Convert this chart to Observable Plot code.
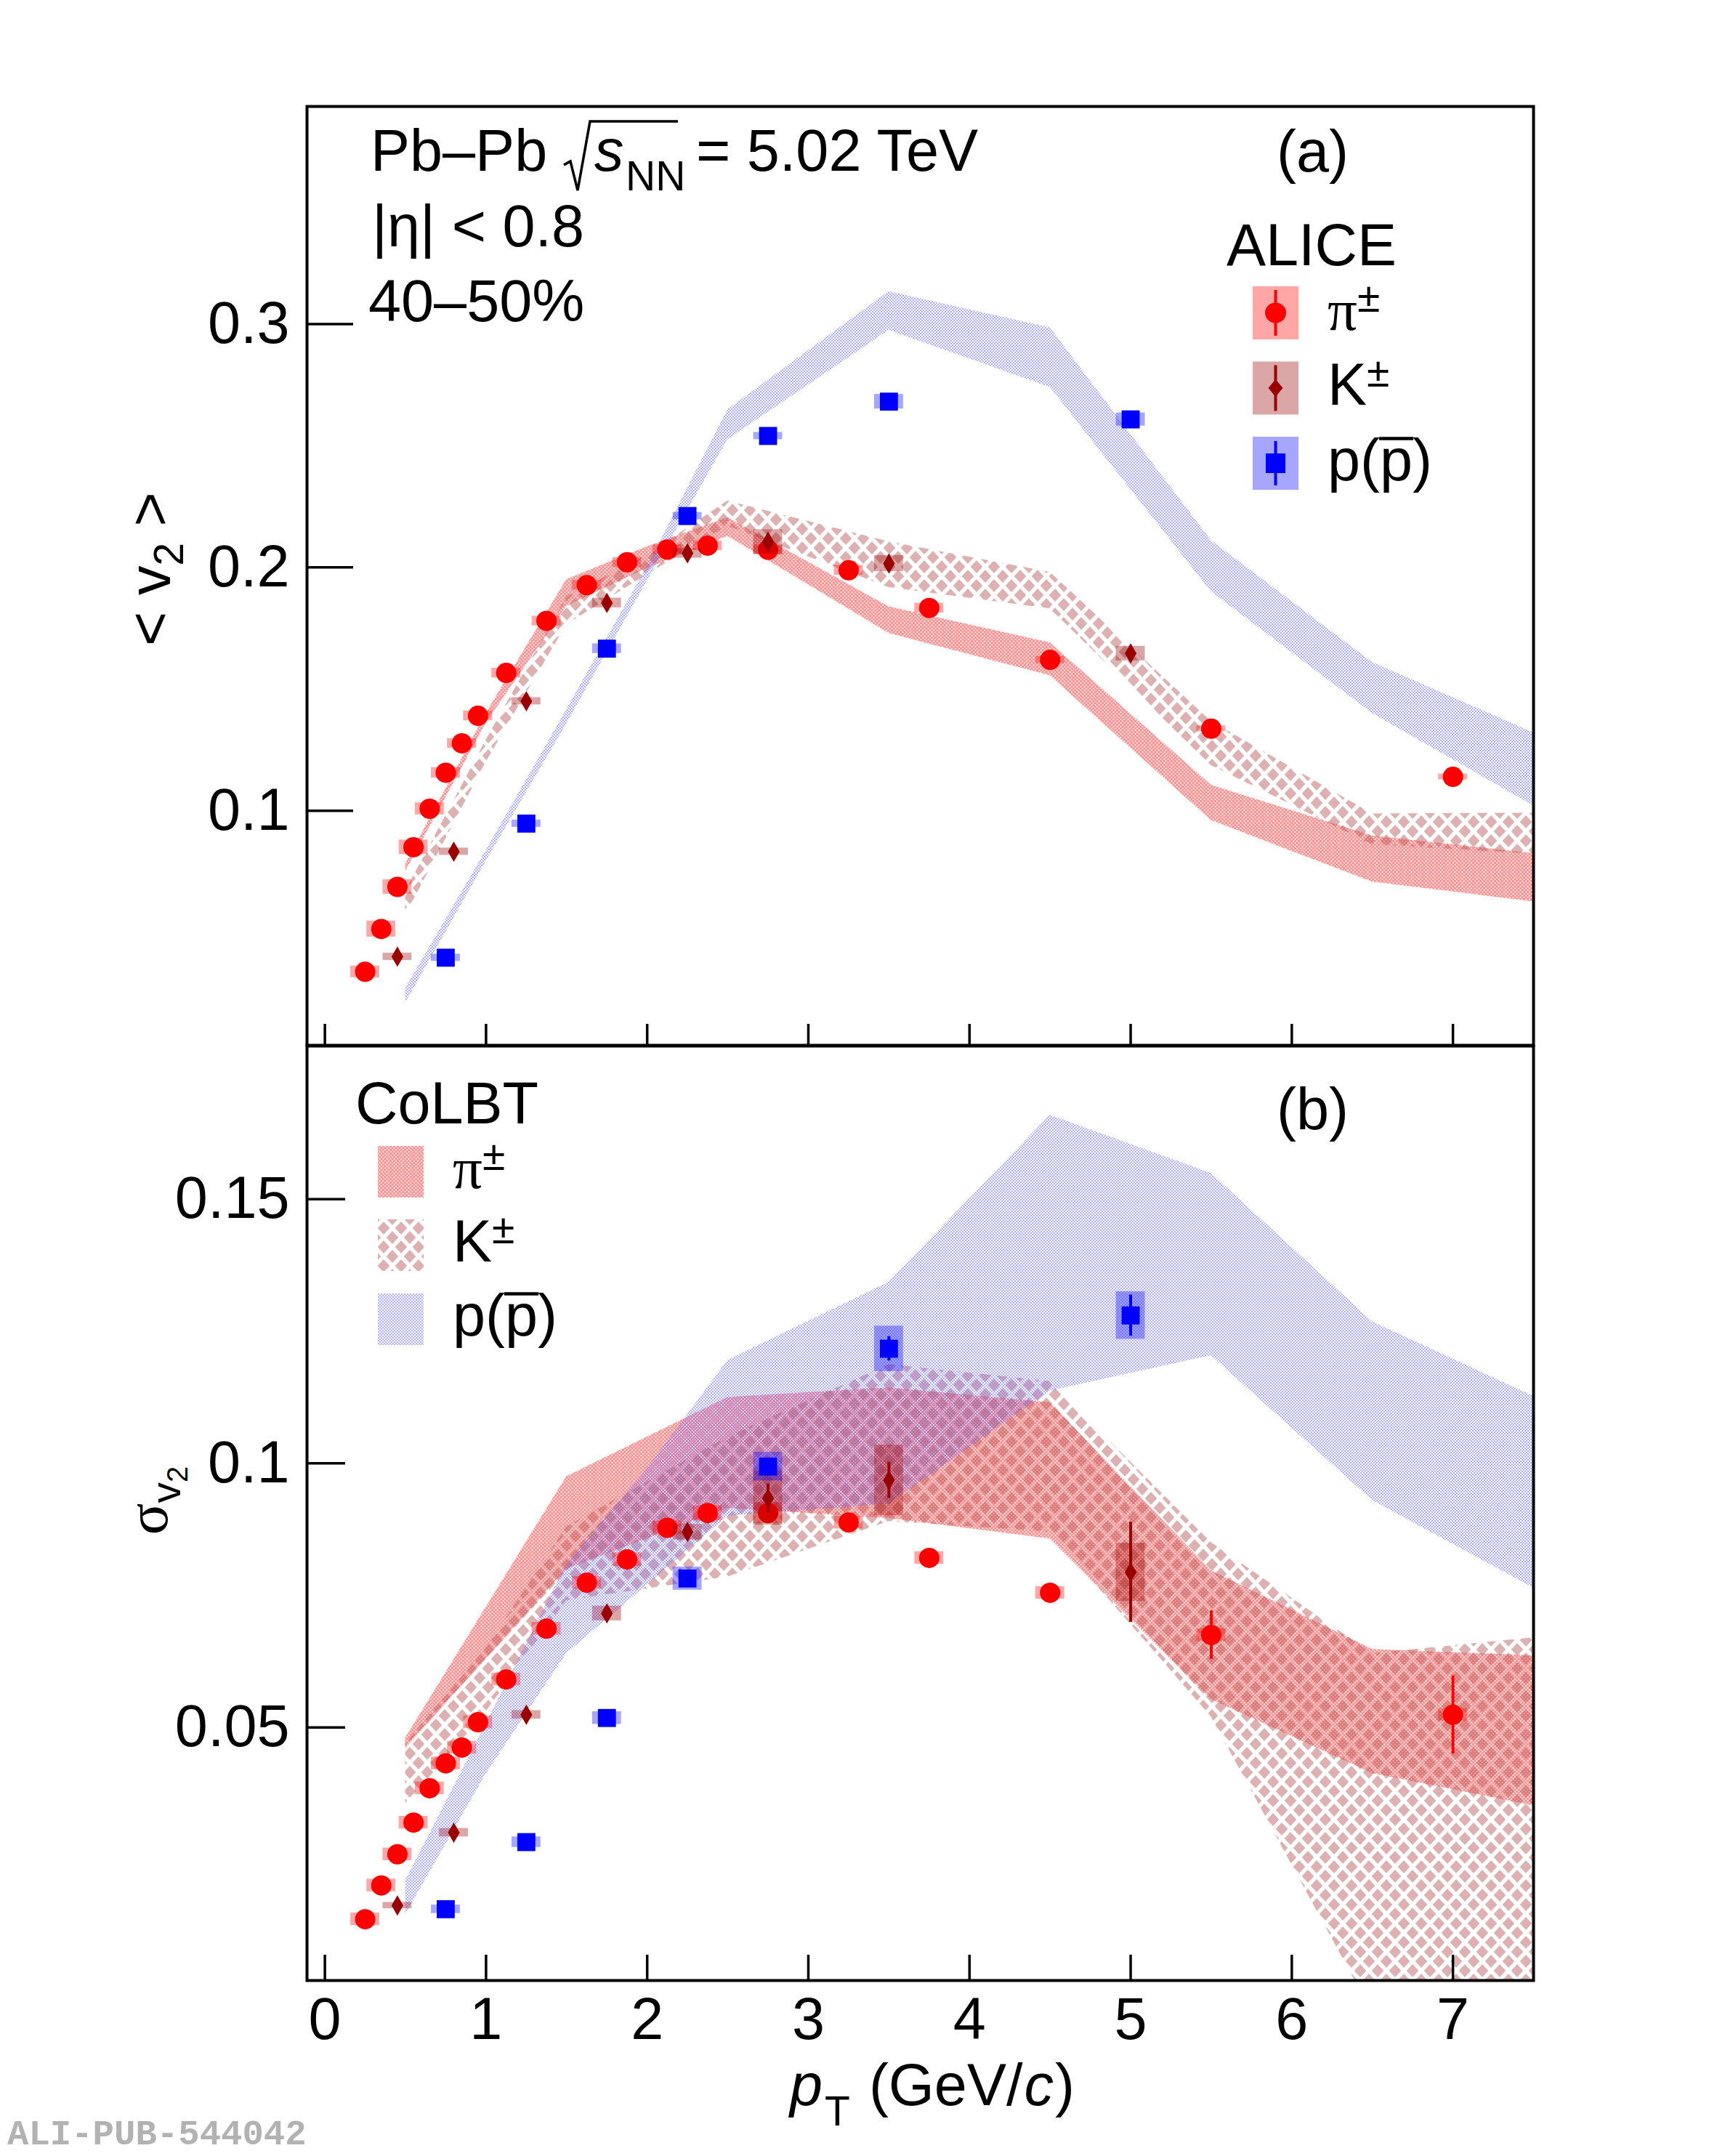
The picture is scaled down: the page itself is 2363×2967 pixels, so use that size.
<!DOCTYPE html>
<html><head><meta charset="utf-8">
<script src="https://cdn.jsdelivr.net/npm/d3@7"></script>
<script src="https://cdn.jsdelivr.net/npm/@observablehq/plot@0.6"></script>
<style>
html,body{margin:0;padding:0;background:#fff;}
#page{position:relative;width:2363px;height:2967px;background:#fff;overflow:hidden;}
#page svg{position:absolute;left:0;}
</style></head><body><div id="page"></div>
<script>
// ---------------- tick values / labels ----------------
const xTicks = [0,1,2,3,4,5,6,7];
const xTickLabels = ["0","1","2","3","4","5","6","7"];
const yTicksTop = [0.1,0.2,0.3];
const yTickLabelsTop = ["0.1","0.2","0.3"];
const yTicksBot = [0.05,0.1,0.15];
const yTickLabelsBot = ["0.05","0.1","0.15"];

// ---------------- ALICE data: pions ----------------
const ptPi = [0.25,0.35,0.45,0.55,0.65,0.75,0.85,0.95,1.125,1.375,1.625,1.875,2.125,2.375,2.75,3.25,3.75,4.5,5.5,7.0];
const v2Pi = [0.0338,0.0514,0.0687,0.0850,0.1008,0.1156,0.1277,0.1390,0.1566,0.1780,0.1927,0.2021,0.2073,0.2089,0.2072,0.1988,0.1833,0.1620,0.1337,0.1139];
const v2PiStat = [0.0004,0.0004,0.0004,0.0004,0.0004,0.0004,0.0004,0.0004,0.0005,0.0005,0.0005,0.0006,0.0006,0.0007,0.0008,0.001,0.001,0.0012,0.0015,0.002];
const v2PiSys = [0.0024,0.0033,0.0030,0.0030,0.0025,0.0022,0.0020,0.0020,0.0020,0.0020,0.0020,0.0020,0.0020,0.0020,0.0020,0.0020,0.0020,0.0015,0.0012,0.0012];
const sgPi = [0.0137,0.0201,0.0260,0.0320,0.0385,0.0432,0.0462,0.0510,0.0591,0.0687,0.0774,0.0818,0.0878,0.0906,0.0906,0.0888,0.0821,0.0755,0.0675,0.0524];
const sgPiStat = [0.0003,0.0003,0.0003,0.0003,0.0003,0.0003,0.0003,0.0004,0.0004,0.0004,0.0005,0.0005,0.0006,0.0007,0.0008,0.0010,0.0012,0.0015,0.0046,0.0074];
const sgPiSys = [0.0012,0.0012,0.0012,0.0012,0.0012,0.0012,0.0012,0.0012,0.0012,0.0012,0.0012,0.0013,0.0013,0.0014,0.0020,0.0012,0.0012,0.0012,0.0012,0.0012];

// ---------------- ALICE data: kaons ----------------
const ptK = [0.45,0.8,1.25,1.75,2.25,2.75,3.5,5.0];
const v2K = [0.0400,0.0832,0.1450,0.1854,0.2058,0.2105,0.2016,0.1646];
const v2KStat = [0.0005,0.0005,0.0006,0.0008,0.0010,0.0015,0.0020,0.0030];
const v2KSys = [0.0015,0.0015,0.0015,0.0020,0.0020,0.0050,0.0033,0.0030];
const sgK = [0.0163,0.0301,0.0524,0.0716,0.0870,0.0934,0.0968,0.0794];
const sgKStat = [0.0004,0.0005,0.0006,0.0008,0.0010,0.0027,0.0034,0.0095];
const sgKSys = [0.0006,0.0008,0.0008,0.0014,0.0015,0.0051,0.0067,0.0055];

// ---------------- ALICE data: protons ----------------
const ptP = [0.75,1.25,1.75,2.25,2.75,3.5,5.0];
const v2P = [0.0396,0.0947,0.1666,0.2211,0.2540,0.2681,0.2608];
const v2PStat = [0.0005,0.0006,0.0008,0.0010,0.0012,0.0015,0.0020];
const v2PSys = [0.0015,0.0015,0.0020,0.0015,0.0015,0.0030,0.0027];
const sgP = [0.0156,0.0283,0.0518,0.0782,0.0994,0.1217,0.1280];
const sgPStat = [0.0004,0.0005,0.0007,0.0009,0.0015,0.0023,0.0039];
const sgPSys = [0.0008,0.0010,0.0012,0.0022,0.0027,0.0043,0.0045];

// ---------------- CoLBT bands, panel (a) <v2> ----------------
const bandPt = [0.5,1.0,1.5,2.0,2.5,3.5,4.5,5.5,6.5,7.5];
const topPiHi = [0.078,0.140,0.195,0.2085,0.2205,0.1838,0.1690,0.1105,0.0897,0.0824];
const topPiLo = [0.075,0.136,0.184,0.1996,0.2128,0.1729,0.1555,0.0960,0.0707,0.0626];
const topKHi  = [0.067,0.129,0.188,0.205,0.2273,0.2105,0.1980,0.1367,0.0987,0.0990];
const topKLo  = [0.057,0.120,0.1765,0.197,0.2170,0.1917,0.1830,0.1186,0.0861,0.0822];
const topPHi  = [0.027,0.0837,0.1416,0.2003,0.2648,0.3133,0.2985,0.2110,0.1610,0.1320];
const topPLo  = [0.021,0.0792,0.1357,0.1944,0.2525,0.2974,0.2740,0.1900,0.1400,0.1020];

// ---------------- CoLBT bands, panel (b) sigma_v2 ----------------
const botPiPt = [0.5,1.5,2.5,3.5,4.5,5.5,6.5,7.5];
const botPiHi = [0.048,0.0975,0.1125,0.1143,0.1115,0.0797,0.0648,0.0636];
const botPiLo = [0.046,0.0800,0.0915,0.0896,0.0857,0.0553,0.0413,0.0352];
const botKPt  = [0.5,1.0,1.5,2.5,3.5,4.5,5.5,6.5,7.5];
const botKHi  = [0.047,0.065,0.088,0.105,0.1187,0.1155,0.0850,0.0640,0.0670];
const botKLo  = [0.035,0.053,0.074,0.0785,0.0890,0.0870,0.0520,-0.004,-0.030];
const botPPt  = [0.5,1.0,1.5,2.0,2.5,3.5,4.5,5.5,6.5,7.5];
const botPHi  = [0.021,0.0507,0.081,0.099,0.1195,0.1343,0.1659,0.1549,0.1268,0.1127];
const botPLo  = [0.0146,0.0412,0.064,0.077,0.090,0.0923,0.1137,0.1204,0.093,0.0764];

// ---------------- layout ----------------
const W = 2363, H = 2967;
const FRAME_L = 422, FRAME_R = 2110;
const xDomain = [-0.111, 7.5];
const yDomTop = [0.0036, 0.3894];
const yDomBot = [0.0021, 0.1790];
const pxPerX = (FRAME_R - FRAME_L) / (xDomain[1] - xDomain[0]);
const FONT = "Liberation Sans, Arial, Helvetica, sans-serif";
const SERIF = "Liberation Serif, Times New Roman, serif";
const RED = "#ff0000", KCOL = "#990000", BLUE = "#0000ff";

const page = d3.select("#page");

// pattern definitions (ROOT-like hatch fills)
const defsSvg = page.append("svg").attr("width", 1).attr("height", 1).style("top", "0px");
const defs = defsSvg.append("defs");
const pPi = defs.append("pattern").attr("id", "patPi").attr("patternUnits", "userSpaceOnUse").attr("width", 5).attr("height", 5);
pPi.append("path").attr("d", "M-1,-1 L6,6 M6,-1 L-1,6").attr("stroke", "rgb(255,60,60)").attr("stroke-width", 1.6).attr("stroke-opacity", 0.58).attr("fill", "none");
const pK = defs.append("pattern").attr("id", "patK").attr("patternUnits", "userSpaceOnUse").attr("width", 24).attr("height", 26);
const dia = (cx, cy) => `M${cx},${cy - 9} L${cx + 8.3},${cy} L${cx},${cy + 9} L${cx - 8.3},${cy} Z`;
pK.append("path").attr("d", [dia(12, 13), dia(0, 0), dia(24, 0), dia(0, 26), dia(24, 26)].join(" ")).attr("fill", "rgb(180,85,85)").attr("fill-opacity", 0.46);
const pP = defs.append("pattern").attr("id", "patP").attr("patternUnits", "userSpaceOnUse").attr("width", 4).attr("height", 4);
pP.append("rect").attr("x", 0).attr("y", 0).attr("width", 2).attr("height", 2).attr("fill", "rgb(100,100,255)").attr("fill-opacity", 0.52);
pP.append("rect").attr("x", 2).attr("y", 2).attr("width", 2).attr("height", 2).attr("fill", "rgb(100,100,255)").attr("fill-opacity", 0.52);

const band = (pt, lo, hi) => pt.map((x, i) => ({x, lo: lo[i], hi: hi[i]}));

function species(pt, val, stat, sys, color, symbol, r) {
  const d = pt.map((x, i) => ({x, y: val[i], s: stat[i], e: sys[i]}));
  return [
    Plot.rect(d, {x1: q => q.x - 0.09, x2: q => q.x + 0.09, y1: q => q.y - q.e, y2: q => q.y + q.e, fill: color, fillOpacity: 0.35}),
    Plot.ruleX(d, {x: "x", y1: q => q.y - q.s, y2: q => q.y + q.s, stroke: color, strokeWidth: 4}),
    Plot.dot(d, {x: "x", y: "y", symbol, r, fill: color, stroke: "none"})
  ];
}

const commonStyle = {fontFamily: FONT, fontSize: "81px", background: "transparent", color: "black", overflow: "visible"};

// ---------------- panel (a) ----------------
const topH = 1440;
const topPlot = Plot.plot({
  width: W, height: topH,
  marginLeft: FRAME_L, marginRight: W - FRAME_R, marginTop: 146, marginBottom: 2,
  x: {domain: xDomain, axis: null},
  y: {domain: yDomTop, axis: null},
  style: commonStyle,
  marks: [
    Plot.areaY(band(bandPt, topPiLo, topPiHi), {x: "x", y1: "lo", y2: "hi", fill: "url(#patPi)", clip: true}),
    Plot.areaY(band(bandPt, topKLo, topKHi), {x: "x", y1: "lo", y2: "hi", fill: "url(#patK)", clip: true}),
    Plot.areaY(band(bandPt, topPLo, topPHi), {x: "x", y1: "lo", y2: "hi", fill: "url(#patP)", clip: true}),
    ...species(ptPi, v2Pi, v2PiStat, v2PiSys, RED, "circle", 14),
    ...species(ptK, v2K, v2KStat, v2KSys, KCOL, "diamond", 8.5),
    ...species(ptP, v2P, v2PStat, v2PSys, BLUE, "square", 14),
    Plot.ruleY(yTicksTop, {y: d => d, x1: xDomain[0], x2: xDomain[0] + 64 / pxPerX, stroke: "black", strokeWidth: 3.5}),
    Plot.ruleX(xTicks, {x: d => d, y1: yDomTop[0], y2: yDomTop[0] + 29 * (yDomTop[1] - yDomTop[0]) / (topH - 148), stroke: "black", strokeWidth: 3.5}),
    Plot.axisY(yTicksTop, {anchor: "left", tickSize: 0, tickPadding: 24, label: null, tickFormat: d => yTickLabelsTop[yTicksTop.indexOf(d)]}),
    Plot.frame({stroke: "black", strokeWidth: 4})
  ]
});
d3.select(topPlot).style("top", "0px");
page.node().appendChild(topPlot);

// ---------------- panel (b) ----------------
const botTop = 1438, botH = H - botTop;
const botPlot = Plot.plot({
  width: W, height: botH,
  marginLeft: FRAME_L, marginRight: W - FRAME_R, marginTop: 1, marginBottom: botH - (2725 - botTop),
  x: {domain: xDomain, axis: null},
  y: {domain: yDomBot, axis: null},
  style: commonStyle,
  marks: [
    Plot.areaY(band(botPiPt, botPiLo, botPiHi), {x: "x", y1: "lo", y2: "hi", fill: "url(#patPi)", clip: true}),
    Plot.areaY(band(botKPt, botKLo, botKHi), {x: "x", y1: "lo", y2: "hi", fill: "url(#patK)", clip: true}),
    Plot.areaY(band(botPPt, botPLo, botPHi), {x: "x", y1: "lo", y2: "hi", fill: "url(#patP)", clip: true}),
    ...species(ptPi, sgPi, sgPiStat, sgPiSys, RED, "circle", 14),
    ...species(ptK, sgK, sgKStat, sgKSys, KCOL, "diamond", 8.5),
    ...species(ptP, sgP, sgPStat, sgPSys, BLUE, "square", 14),
    Plot.ruleY(yTicksBot, {y: d => d, x1: xDomain[0], x2: xDomain[0] + 53 / pxPerX, stroke: "black", strokeWidth: 3.5}),
    Plot.ruleX(xTicks, {x: d => d, y1: yDomBot[0], y2: yDomBot[0] + 35 * (yDomBot[1] - yDomBot[0]) / (2725 - 1439), stroke: "black", strokeWidth: 3.5}),
    Plot.axisY(yTicksBot, {anchor: "left", tickSize: 0, tickPadding: 24, label: null, tickFormat: d => yTickLabelsBot[yTicksBot.indexOf(d)]}),
    Plot.axisX(xTicks, {anchor: "bottom", tickSize: 0, tickPadding: 23, label: null, tickFormat: d => xTickLabels[xTicks.indexOf(d)]}),
    Plot.frame({stroke: "black", strokeWidth: 4})
  ]
});
d3.select(botPlot).style("top", botTop + "px");
page.node().appendChild(botPlot);

// ---------------- annotations overlay ----------------
const ov = page.append("svg").attr("width", W).attr("height", H).style("top", "0px")
  .attr("font-family", FONT).attr("font-size", 81).attr("fill", "black");

function t(x, y, s, o = {}) {
  const e = ov.append("text").attr("x", x).attr("y", y).text(s);
  for (const k in o) e.attr(k, o[k]);
  return e;
}

// panel (a) header text
t(510, 235, "Pb–Pb");
ov.append("path").attr("d", "M776,227 L785,222 L795,262 L812,167 L933,167").attr("fill", "none").attr("stroke", "black").attr("stroke-width", 3.5);
t(818, 235, "s", {"font-style": "italic"});
t(861, 262, "NN", {"font-size": 57});
t(958, 235, "= 5.02 TeV");
t(512, 339, "|η| < 0.8");
t(507, 442, "40–50%");
t(1757, 236, "(a)");
t(1688, 365, "ALICE");

// ALICE legend
const legX = 1724, legW = 63, legH = 73, legC = legX + legW / 2;
const legRows = [394, 497.5, 601];
ov.append("rect").attr("x", legX).attr("y", legRows[0]).attr("width", legW).attr("height", legH).attr("fill", "rgba(255,0,0,0.35)");
ov.append("line").attr("x1", legC).attr("x2", legC).attr("y1", legRows[0] + 5).attr("y2", legRows[0] + legH - 5).attr("stroke", RED).attr("stroke-width", 4);
ov.append("ellipse").attr("cx", legC).attr("cy", legRows[0] + legH / 2).attr("rx", 14.5).attr("ry", 14).attr("fill", RED);
ov.append("rect").attr("x", legX).attr("y", legRows[1]).attr("width", legW).attr("height", legH).attr("fill", "rgba(153,0,0,0.35)");
ov.append("line").attr("x1", legC).attr("x2", legC).attr("y1", legRows[1] + 5).attr("y2", legRows[1] + legH - 5).attr("stroke", KCOL).attr("stroke-width", 4);
{ const cy = legRows[1] + legH / 2;
  ov.append("path").attr("d", `M${legC},${cy - 12} L${legC + 10},${cy} L${legC},${cy + 12} L${legC - 10},${cy} Z`).attr("fill", KCOL); }
ov.append("rect").attr("x", legX).attr("y", legRows[2]).attr("width", legW).attr("height", legH).attr("fill", "rgba(0,0,255,0.35)");
ov.append("line").attr("x1", legC).attr("x2", legC).attr("y1", legRows[2] + 6).attr("y2", legRows[2] + legH - 6).attr("stroke", BLUE).attr("stroke-width", 4);
ov.append("rect").attr("x", legC - 13.5).attr("y", legRows[2] + legH / 2 - 13.5).attr("width", 27).attr("height", 27).attr("fill", BLUE);

function particleLabels(x, rows, h, off) {
  const a = t(x, rows[0] + h / 2 + off, "π", {"font-family": SERIF});
  a.append("tspan").attr("font-family", FONT).attr("font-size", 57).attr("dy", -25).text("±");
  const b = t(x, rows[1] + h / 2 + off, "K");
  b.append("tspan").attr("font-size", 57).attr("dy", -25).text("±");
  const c = t(x, rows[2] + h / 2 + off, "p(p)");
  const node = c.node();
  const x0 = node.getStartPositionOfChar(2).x, x1 = node.getEndPositionOfChar(2).x;
  const yb = rows[2] + h / 2 + off;
  ov.append("line").attr("x1", x0 - 1).attr("x2", x1 + 1).attr("y1", yb - 57).attr("y2", yb - 57).attr("stroke", "black").attr("stroke-width", 4.5);
}
particleLabels(1827, legRows, legH, 23);

// panel (b) header + CoLBT legend
t(489, 1546, "CoLBT");
t(1757, 1554, "(b)");
const cbX = 520, cbW = 63, cbH = 71;
const cbRows = [1577, 1678, 1780];
["url(#patPi)", "url(#patK)", "url(#patP)"].forEach((f, i) => {
  ov.append("rect").attr("x", cbX).attr("y", cbRows[i]).attr("width", cbW).attr("height", cbH).attr("fill", f);
});
particleLabels(623, cbRows, cbH, 22);

// axis titles
{ const g = ov.append("g").attr("transform", "translate(234,783) rotate(-90)");
  const e = g.append("text").attr("text-anchor", "middle").text("< v");
  e.append("tspan").attr("font-size", 57).attr("dy", 18).text("2");
  e.append("tspan").attr("dy", -18).text(" >"); }
{ const g = ov.append("g").attr("transform", "translate(230,2065) rotate(-90)");
  const e = g.append("text").attr("text-anchor", "middle").attr("font-family", SERIF).text("σ");
  e.append("tspan").attr("font-family", FONT).attr("font-size", 57).attr("dy", 18).text("v");
  e.append("tspan").attr("font-family", FONT).attr("font-size", 40).attr("dy", 10).text("2"); }
{ const e = ov.append("text").attr("x", 1087).attr("y", 2897);
  e.append("tspan").attr("font-style", "italic").text("p");
  e.append("tspan").attr("font-size", 57).attr("dx", 3).attr("dy", 28).text("T");
  e.append("tspan").attr("dx", 26).attr("dy", -28).text("(GeV/");
  e.append("tspan").attr("font-style", "italic").attr("dx", 2).text("c");
  e.append("tspan").attr("dx", 2).text(")"); }

// publication id
t(10, 2951, "ALI-PUB-544042", {"font-family": "Liberation Mono, DejaVu Sans Mono, monospace", "font-weight": "bold", "font-size": 49, "fill": "#b2b2b2"});
</script></body></html>
